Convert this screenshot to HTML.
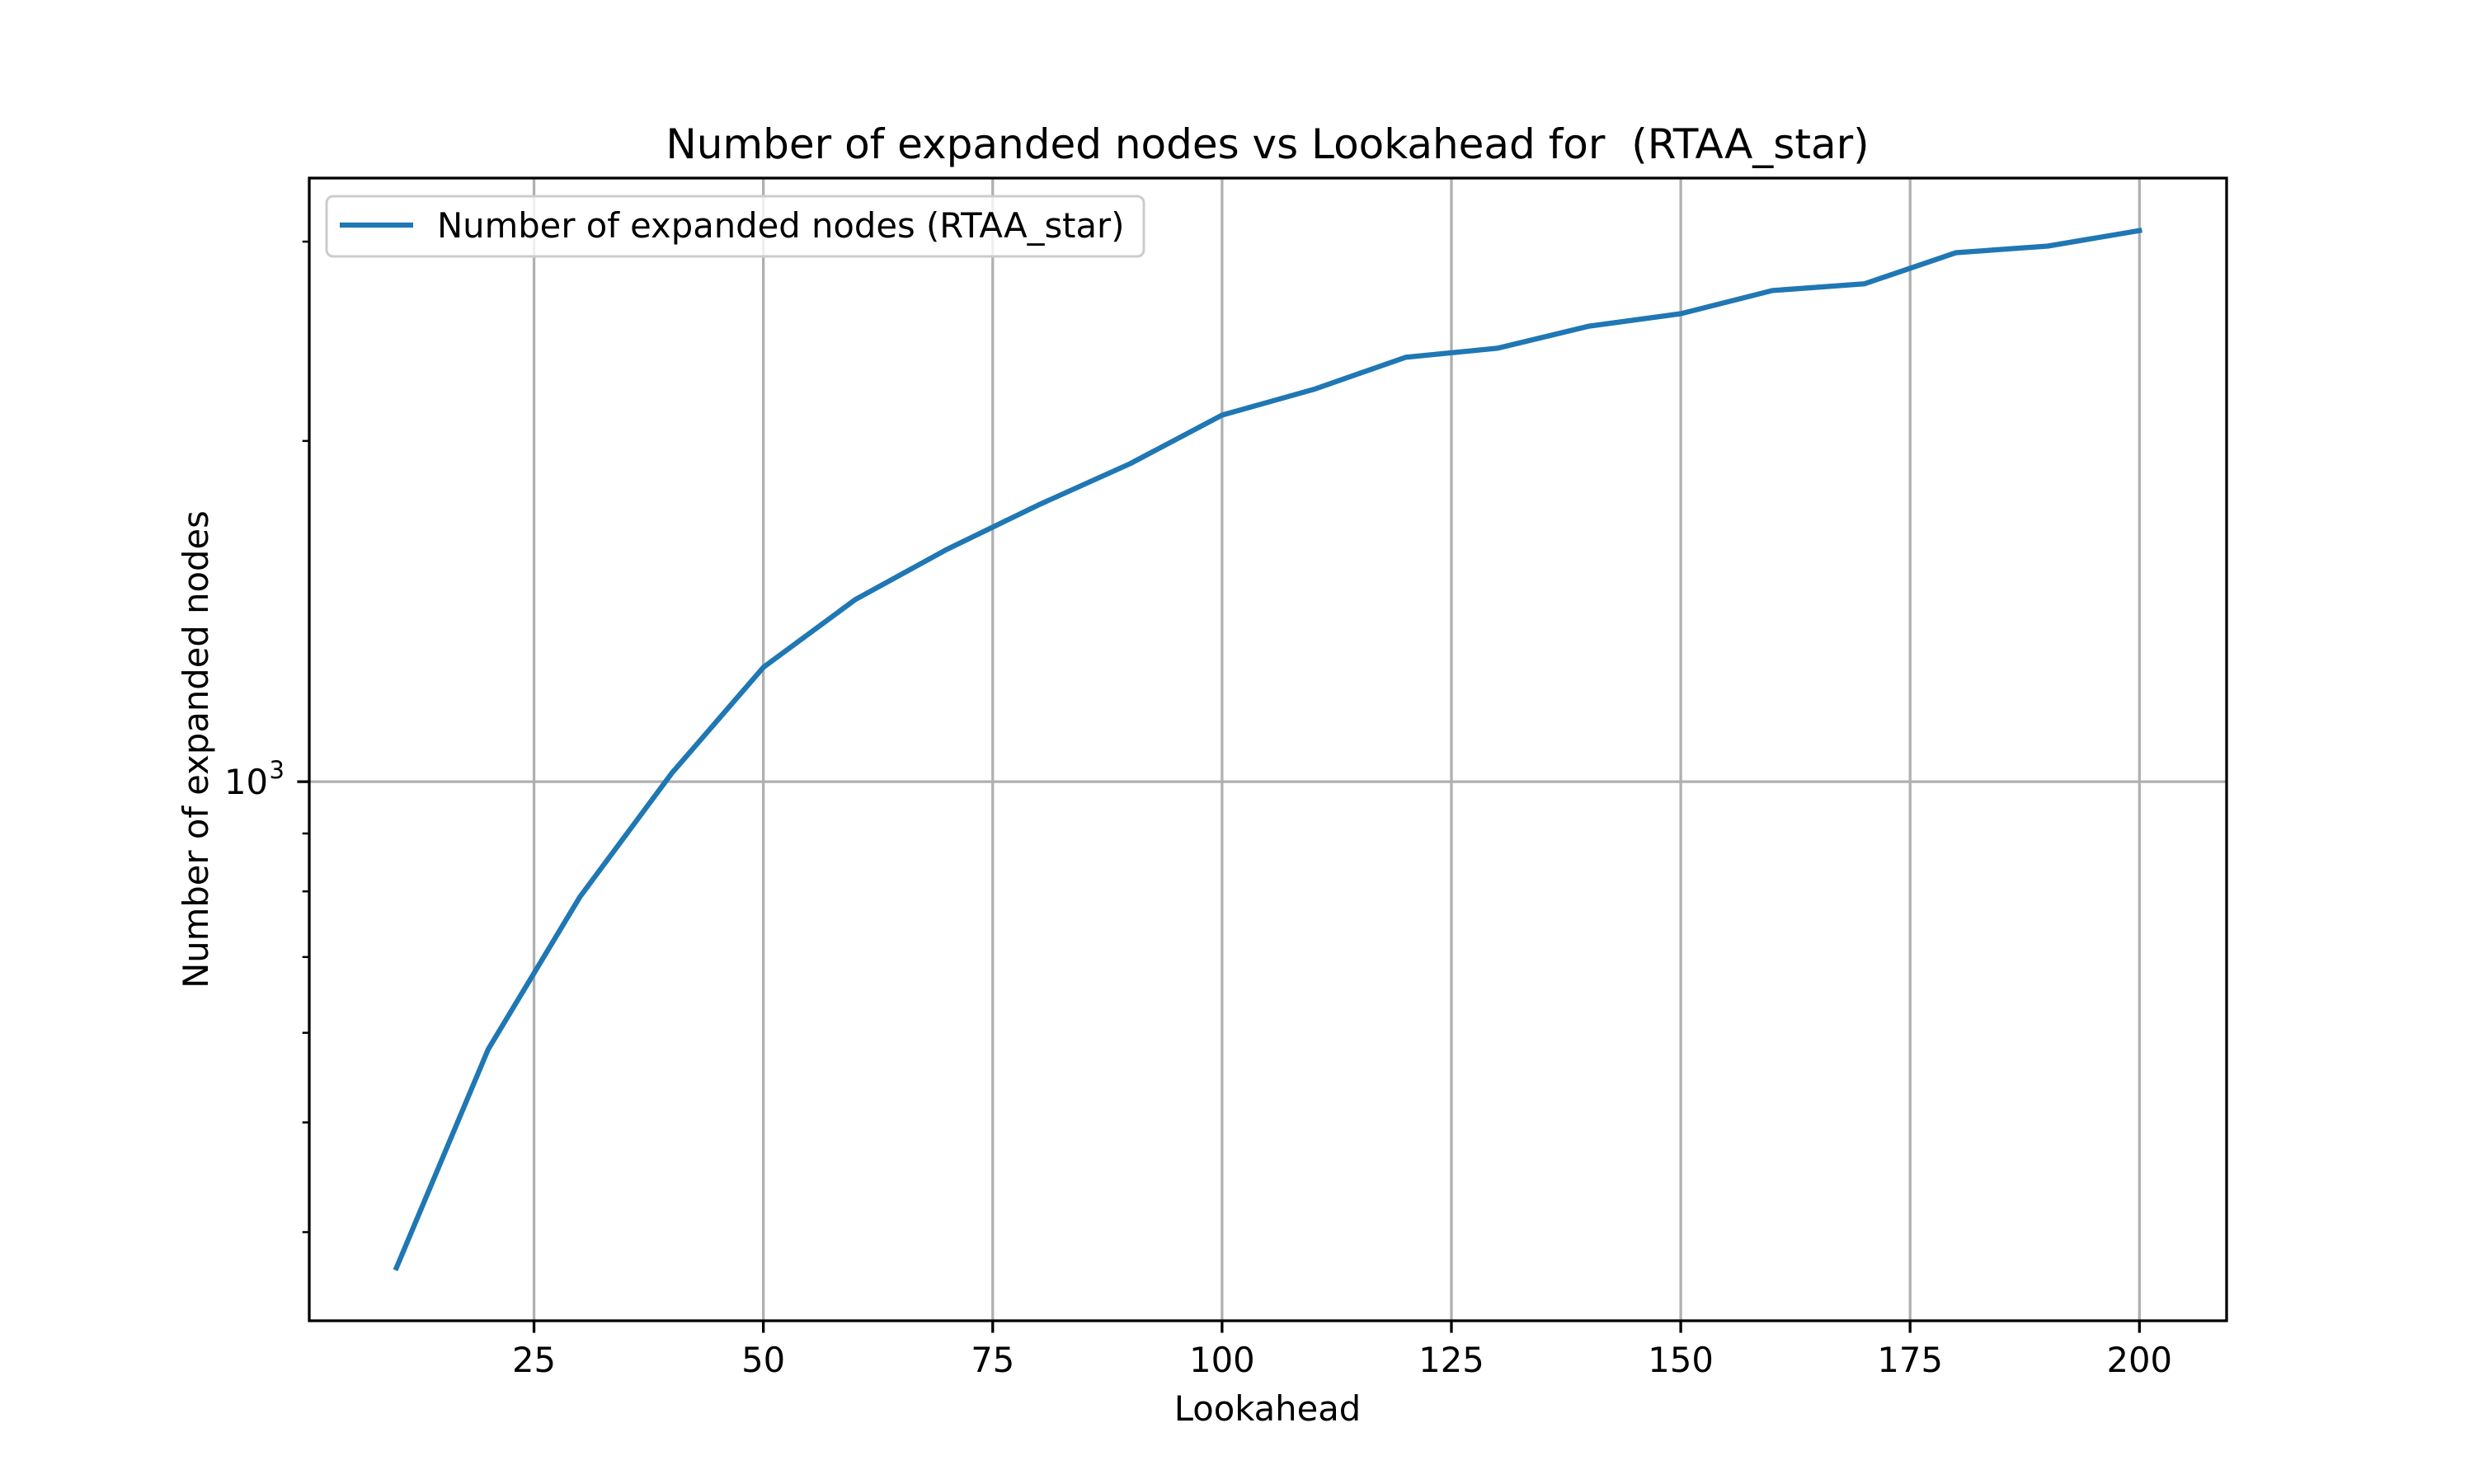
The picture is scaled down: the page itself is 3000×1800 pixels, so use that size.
<!DOCTYPE html>
<html><head><meta charset="utf-8"><style>
html,body{margin:0;padding:0;background:#fff}
svg{display:block;font-family:"DejaVu Sans","Liberation Sans",sans-serif}
</style></head><body>
<svg id="chart" width="3000" height="1800" viewBox="0 0 3000 1800">
<rect width="3000" height="1800" fill="#fff"/>
<g id="grid"></g>
<g id="plot"></g>
<rect x="375" y="216" width="2325" height="1386" fill="none" stroke="#000" stroke-width="3.3"/>
<g id="ticks"></g>
<text x="1537" y="192" font-size="50" text-anchor="middle">Number of expanded nodes vs Lookahead for&#160; (RTAA_star)</text>
<text x="1537" y="1723" font-size="41.7" text-anchor="middle">Lookahead</text>
<text x="0" y="0" font-size="41.7" text-anchor="middle" transform="translate(252,909) rotate(-90)">Number of expanded nodes</text>
<g>
<rect x="396" y="238" width="991" height="73" rx="8" fill="#fff" fill-opacity="0.8" stroke="#ccc" stroke-width="3"/>
<line x1="412" y1="273" x2="501" y2="273" stroke="#1f77b4" stroke-width="6.25"/>
<text x="530" y="288" font-size="41.7">Number of expanded nodes (RTAA_star)</text>
</g>
</svg>
<script>
const lookahead=[10,20,30,40,50,60,70,80,90,100,110,120,130,140,150,160,170,180,190,200];
const expandedNodes=[372,580,791,1017,1262,1448,1604,1756,1910,2108,2221,2371,2415,2526,2591,2716,2753,2933,2973,3068];
const xTicks=[25,50,75,100,125,150,175,200];
const yMajorTicks=[1000];
const yMinorTicks=[400,500,600,700,800,900,2000,3000];

const NS='http://www.w3.org/2000/svg';
const L=375,R=2700,T=216,B=1602;
const xMin=0.5,xMax=209.5;
const yLogMin=Math.log10(334),yLogMax=Math.log10(3414);
function xs(v){return L+(v-xMin)/(xMax-xMin)*(R-L);}
function ys(v){return B-(Math.log10(v)-yLogMin)/(yLogMax-yLogMin)*(B-T);}
function mk(tag,attrs,parent){const e=document.createElementNS(NS,tag);for(const k in attrs)e.setAttribute(k,attrs[k]);parent.appendChild(e);return e;}
const grid=document.getElementById('grid'),plot=document.getElementById('plot'),ticks=document.getElementById('ticks');

xTicks.forEach(t=>{
  const x=xs(t);
  const g=mk('line',{x1:x,x2:x,y1:T,y2:B,stroke:'#b0b0b0','stroke-width':3.3},grid);
  
  
  const tk=mk('line',{x1:x,x2:x,y1:B,y2:B+14.6,stroke:'#000','stroke-width':3.3},ticks);
  
  
  const lb=mk('text',{x:x,y:B+62,'font-size':41.7,'text-anchor':'middle'},ticks);
  lb.textContent=t;
  
  
});
yMajorTicks.forEach(t=>{
  const y=ys(t);
  const g=mk('line',{x1:L,x2:R,y1:y,y2:y,stroke:'#b0b0b0','stroke-width':3.3},grid);
  
  
  const tk=mk('line',{x1:L-14.6,x2:L,y1:y,y2:y,stroke:'#000','stroke-width':3.3},ticks);
  
  
  const lb=mk('text',{x:L-50,y:y+15,'font-size':41.7,'text-anchor':'end'},ticks);
  lb.textContent='10';
  
  
  const sp=mk('text',{x:L-30,y:y-4,'font-size':29,'text-anchor':'end'},ticks);
  sp.textContent=String(Math.round(Math.log10(t)));
  
  
});
yMinorTicks.forEach(t=>{
  const y=ys(t);
  const tk=mk('line',{x1:L-8.3,x2:L,y1:y,y2:y,stroke:'#000','stroke-width':2.5},ticks);
  
  
});
const pts=lookahead.map((x,i)=>xs(x).toFixed(1)+','+ys(expandedNodes[i]).toFixed(1)).join(' ');
const line=mk('polyline',{points:pts,fill:'none',stroke:'#1f77b4','stroke-width':6.25,'stroke-linejoin':'round','stroke-linecap':'square'},plot);


</script>
</body></html>
